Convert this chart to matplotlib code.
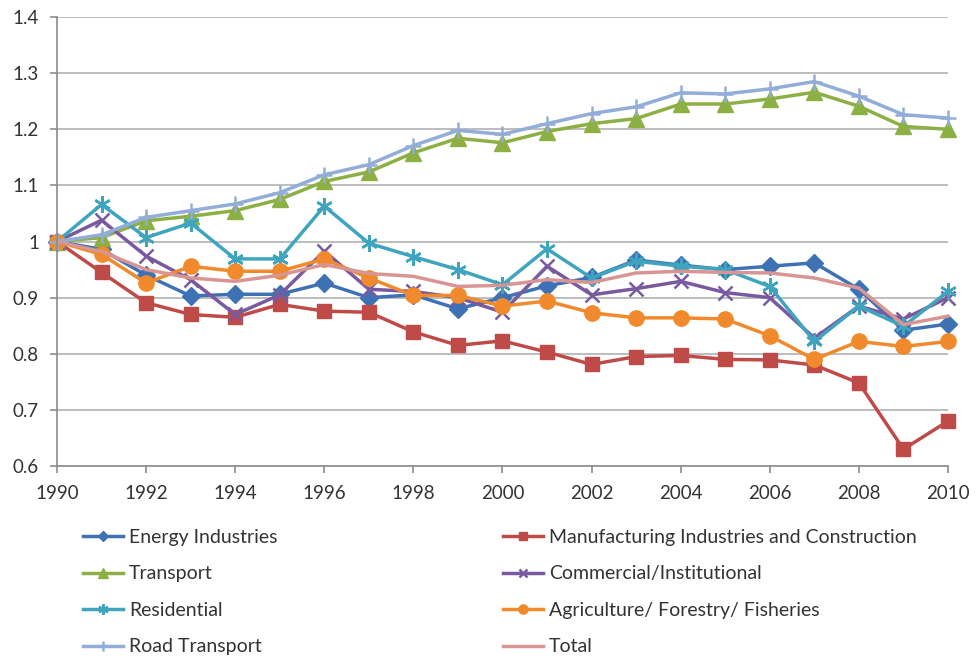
import matplotlib.pyplot as plt
import numpy as np

years = np.arange(1990, 2011)

energy = [1.0, 0.986, 0.94, 0.903, 0.906, 0.906, 0.926, 0.90, 0.905, 0.880, 0.90,
          0.921, 0.936, 0.967, 0.958, 0.950, 0.956, 0.962, 0.915, 0.842, 0.853]
manufacturing = [1.0, 0.945, 0.891, 0.870, 0.865, 0.888, 0.876, 0.874, 0.839, 0.815, 0.823,
                 0.803, 0.781, 0.795, 0.797, 0.790, 0.789, 0.780, 0.748, 0.630, 0.680]
transport = [1.0, 1.007, 1.037, 1.045, 1.055, 1.075, 1.107, 1.124, 1.158, 1.184, 1.176,
             1.196, 1.210, 1.219, 1.245, 1.245, 1.254, 1.266, 1.241, 1.205, 1.200]
commercial = [1.0, 1.038, 0.974, 0.932, 0.870, 0.905, 0.983, 0.915, 0.911, 0.900, 0.874,
              0.956, 0.905, 0.916, 0.929, 0.909, 0.900, 0.828, 0.885, 0.862, 0.900]
residential = [1.0, 1.066, 1.007, 1.033, 0.969, 0.969, 1.063, 0.997, 0.973, 0.950, 0.923,
               0.987, 0.935, 0.965, 0.956, 0.950, 0.920, 0.822, 0.885, 0.849, 0.911]
agriculture = [1.0, 0.977, 0.926, 0.956, 0.947, 0.947, 0.969, 0.935, 0.904, 0.904, 0.885,
               0.894, 0.873, 0.864, 0.864, 0.862, 0.832, 0.790, 0.822, 0.813, 0.822]
road = [1.0, 1.012, 1.043, 1.055, 1.067, 1.087, 1.119, 1.137, 1.171, 1.198, 1.191,
        1.210, 1.228, 1.240, 1.265, 1.263, 1.272, 1.285, 1.259, 1.226, 1.220]
total = [1.0, 0.982, 0.950, 0.935, 0.929, 0.940, 0.959, 0.943, 0.938, 0.920, 0.922,
         0.932, 0.927, 0.944, 0.947, 0.945, 0.944, 0.935, 0.917, 0.852, 0.867]

plt.rcParams['font.family'] = ['Lato', 'DejaVu Sans']

fig = plt.figure(figsize=(9.76, 6.6), dpi=100)
ax = fig.add_axes([0.0584, 0.2939, 0.9129, 0.6803])

# (label, data, color, marker, marker size)
series = [
    ("Energy Industries", energy, "#3f72b5", "D", 9),
    ("Manufacturing Industries and Construction", manufacturing, "#be4b48", "s", 10.5),
    ("Transport", transport, "#8db045", "^", 11),
    ("Commercial/Institutional", commercial, "#7a5a9f", "x", 10),
    ("Residential", residential, "#3fa5bf", "*", 12),
    ("Agriculture/ Forestry/ Fisheries", agriculture, "#f08a2c", "o", 11),
    ("Road Transport", road, "#93add9", "+", 12),
    ("Total", total, "#d89593", None, 0),
]

handles = {}
for label, vals, color, marker, ms in series:
    kw = dict(color=color, lw=2.5, clip_on=False, label=label)
    if marker == "*":
        # six-spoke asterisk
        h, = ax.plot(years, vals, marker=(6, 2, 0), ms=ms, mew=1.8, mec=color, **kw)
    elif marker in ("x", "+"):
        h, = ax.plot(years, vals, marker=marker, ms=ms, mew=1.8, mec=color, **kw)
    elif marker is None:
        h, = ax.plot(years, vals, **kw)
    else:
        h, = ax.plot(years, vals, marker=marker, ms=ms, mec=color, mfc=color, **kw)
    handles[label] = h

ax.set_xlim(1990, 2010)
ax.set_ylim(0.6, 1.4)
ax.set_xticks(np.arange(1990, 2011, 2))
yt = np.round(np.arange(0.6, 1.41, 0.1), 1)
ax.set_yticks(yt)
ax.set_yticklabels([("%g" % v) for v in yt])

ax.grid(axis='y', color='#b8b8b8', lw=1.3)
ax.set_axisbelow(True)
for s in ('top', 'right'):
    ax.spines[s].set_visible(False)
for s in ('left', 'bottom'):
    ax.spines[s].set_color('#8c8c8c')
    ax.spines[s].set_linewidth(1.2)
ax.tick_params(axis='both', colors='#8c8c8c', length=5, width=1.2,
               labelsize=13.5, labelcolor='#333333')
ax.tick_params(axis='x', pad=9)
ax.tick_params(axis='y', pad=8)

left = ["Energy Industries", "Transport", "Residential", "Road Transport"]
right = ["Manufacturing Industries and Construction", "Commercial/Institutional",
         "Agriculture/ Forestry/ Fisheries", "Total"]
for names, x0 in ((left, 83 / 976), (right, 503 / 976)):
    fig.legend([handles[n] for n in names], names, loc='upper left',
               bbox_to_anchor=(x0, 1 - 529 / 660), frameon=False, fontsize=14,
               handlelength=2.06, handletextpad=0.3, labelspacing=1.0,
               borderpad=0, borderaxespad=0, markerscale=0.6,
               labelcolor='#333333')

fig.savefig("out.png", dpi=100)
